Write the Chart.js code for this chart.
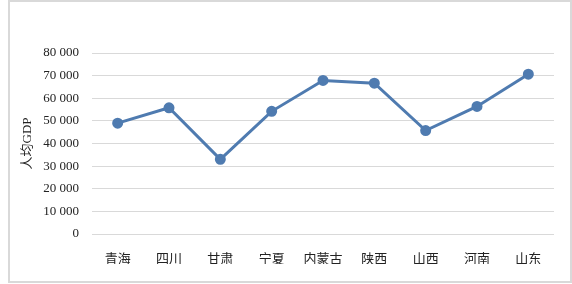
<!DOCTYPE html>
<html>
<head>
<meta charset="utf-8">
<script src="https://cdn.jsdelivr.net/npm/chart.js@4.4.0/dist/chart.umd.min.js"></script>
<style>
  html, body { margin: 0; padding: 0; background: #fff; }
  #wrap { position: relative; width: 572px; height: 284px; }
</style>
</head>
<body>
<div id="wrap"><canvas id="myChart" width="572" height="284"></canvas></div>
<script>
const provinces = ['青海', '四川', '甘肃', '宁夏', '内蒙古', '陕西', '山西', '河南', '山东'];
const gdpPerCapita = [48981, 55774, 32995, 54217, 67852, 66649, 45724, 56388, 70653];
const yMax = 80000;
const yStep = 10000;

const fmt = (v) => String(v).replace(/\B(?=(\d{3})+(?!\d))/g, ' ');

const frame = {
  id: 'frame',
  beforeDraw(chart) {
    const ctx = chart.ctx;
    ctx.save();
    ctx.fillStyle = '#fff';
    ctx.fillRect(0, 0, chart.width, chart.height);
    ctx.strokeStyle = '#d9d9d9';
    ctx.lineWidth = 2;
    ctx.strokeRect(9, 1, chart.width - 10, chart.height - 3);
    ctx.restore();
  }
};

const serif = "'Liberation Serif', 'Noto Sans CJK SC', serif";

new Chart(document.getElementById('myChart'), {
  type: 'line',
  data: {
    labels: provinces,
    datasets: [{
      data: gdpPerCapita,
      borderColor: '#4f7bb0',
      backgroundColor: '#4f7bb0',
      borderWidth: 3,
      pointRadius: 4,
      pointHoverRadius: 4,
      tension: 0
    }]
  },
  options: {
    responsive: false,
    animation: false,
    layout: { padding: { left: 20, right: 18, top: 53, bottom: 20 } },
    plugins: { legend: { display: false }, tooltip: { enabled: false } },
    scales: {
      x: {
        offset: true,
        grid: { display: false },
        border: { display: false },
        ticks: { color: '#222', font: { family: serif, size: 13 }, padding: 10 },
        afterFit(scale) { scale.height = 30; }
      },
      y: {
        min: 0,
        max: yMax,
        ticks: {
          stepSize: yStep,
          color: '#222',
          padding: 13,
          font: { family: serif, size: 13 },
          callback: (v) => fmt(v)
        },
        grid: { color: '#d9d9d9', lineWidth: 1, drawTicks: false },
        border: { display: false },
        title: {
          display: true,
          text: '人均GDP',
          color: '#222',
          font: { family: serif, size: 13 },
          padding: 0
        },
        afterFit(scale) { scale.width = 72; }
      }
    }
  },
  plugins: [frame]
});
</script>
</body>
</html>
